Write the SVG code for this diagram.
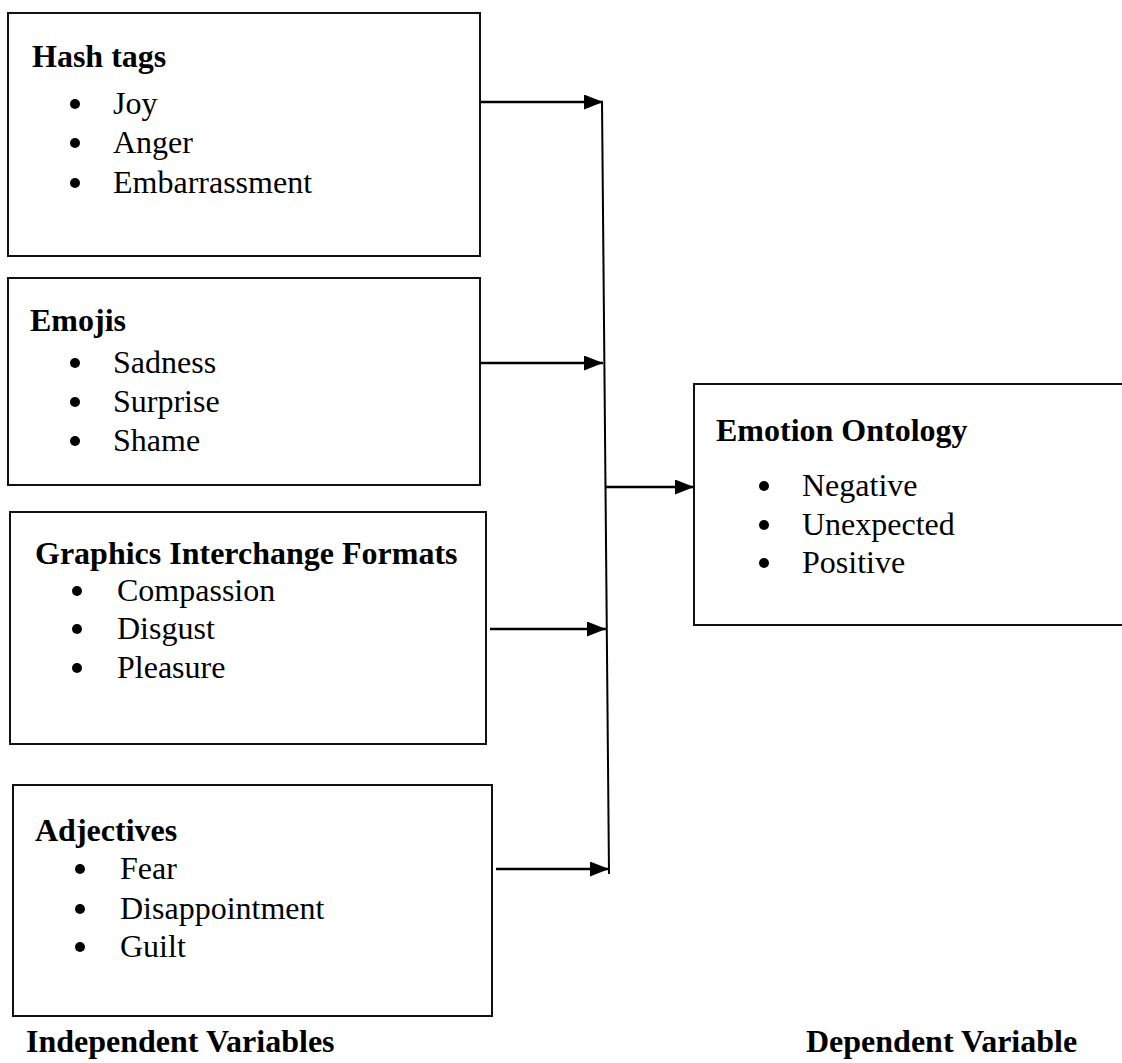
<svg xmlns="http://www.w3.org/2000/svg" width="1122" height="1063" viewBox="0 0 1122 1063">
<defs>
<style>
.box{fill:#fff;stroke:#111;stroke-width:2}
.t{font-family:"Liberation Serif","Times New Roman",serif;font-size:32px;fill:#000}
.h{font-weight:bold}
.b{fill:#000}
.c{stroke:#000;stroke-width:2.5;fill:none}
.v{stroke:#000;stroke-width:2;fill:none}
</style>
<marker id="arr" viewBox="0 0 19 15" refX="19" refY="7.5" markerWidth="19" markerHeight="15" markerUnits="userSpaceOnUse" orient="auto">
<path d="M0,0 L19,7.5 L0,15 Z" fill="#000"/>
</marker>
</defs>
<rect width="1122" height="1063" fill="#fff"/>

<g id="connectors">
<line class="v" x1="602" y1="101" x2="609" y2="874"/>
<line class="c" x1="480" y1="102" x2="603" y2="102" marker-end="url(#arr)"/>
<line class="c" x1="480" y1="363" x2="603" y2="363" marker-end="url(#arr)"/>
<line class="c" x1="490" y1="629" x2="606" y2="629" marker-end="url(#arr)"/>
<line class="c" x1="496" y1="869" x2="609" y2="869" marker-end="url(#arr)"/>
<line class="c" x1="605" y1="487" x2="694" y2="487" marker-end="url(#arr)"/>
</g>

<g id="hashtags">
<rect class="box" x="8" y="13" width="472" height="243"/>
<text class="t h" x="32" y="67">Hash tags</text>
<circle class="b" cx="75" cy="104" r="5"/><text class="t" x="113" y="114">Joy</text>
<circle class="b" cx="75" cy="143" r="5"/><text class="t" x="113" y="153">Anger</text>
<circle class="b" cx="75" cy="183" r="5"/><text class="t" x="113" y="193">Embarrassment</text>
</g>

<g id="emojis">
<rect class="box" x="8" y="278" width="472" height="207"/>
<text class="t h" x="30" y="331">Emojis</text>
<circle class="b" cx="75" cy="363" r="5"/><text class="t" x="113" y="373">Sadness</text>
<circle class="b" cx="75" cy="402" r="5"/><text class="t" x="113" y="412">Surprise</text>
<circle class="b" cx="75" cy="441" r="5"/><text class="t" x="113" y="451">Shame</text>
</g>

<g id="gif">
<rect class="box" x="10" y="512" width="476" height="232"/>
<text class="t h" x="35" y="564">Graphics Interchange Formats</text>
<circle class="b" cx="77" cy="591" r="5"/><text class="t" x="117" y="601">Compassion</text>
<circle class="b" cx="77" cy="629" r="5"/><text class="t" x="117" y="639">Disgust</text>
<circle class="b" cx="77" cy="668" r="5"/><text class="t" x="117" y="678">Pleasure</text>
</g>

<g id="adjectives">
<rect class="box" x="13" y="785" width="479" height="231"/>
<text class="t h" x="35" y="841">Adjectives</text>
<circle class="b" cx="80" cy="869" r="5"/><text class="t" x="120" y="879">Fear</text>
<circle class="b" cx="80" cy="909" r="5"/><text class="t" x="120" y="919">Disappointment</text>
<circle class="b" cx="80" cy="947" r="5"/><text class="t" x="120" y="957">Guilt</text>
</g>

<g id="ontology">
<rect class="box" x="694" y="384" width="440" height="241"/>
<text class="t h" x="716" y="441">Emotion Ontology</text>
<circle class="b" cx="764" cy="486" r="5"/><text class="t" x="802" y="496">Negative</text>
<circle class="b" cx="764" cy="525" r="5"/><text class="t" x="802" y="535">Unexpected</text>
<circle class="b" cx="764" cy="563" r="5"/><text class="t" x="802" y="573">Positive</text>
</g>

<g id="labels">
<text class="t h" x="26" y="1052">Independent Variables</text>
<text class="t h" x="806" y="1052">Dependent Variable</text>
</g>
</svg>
